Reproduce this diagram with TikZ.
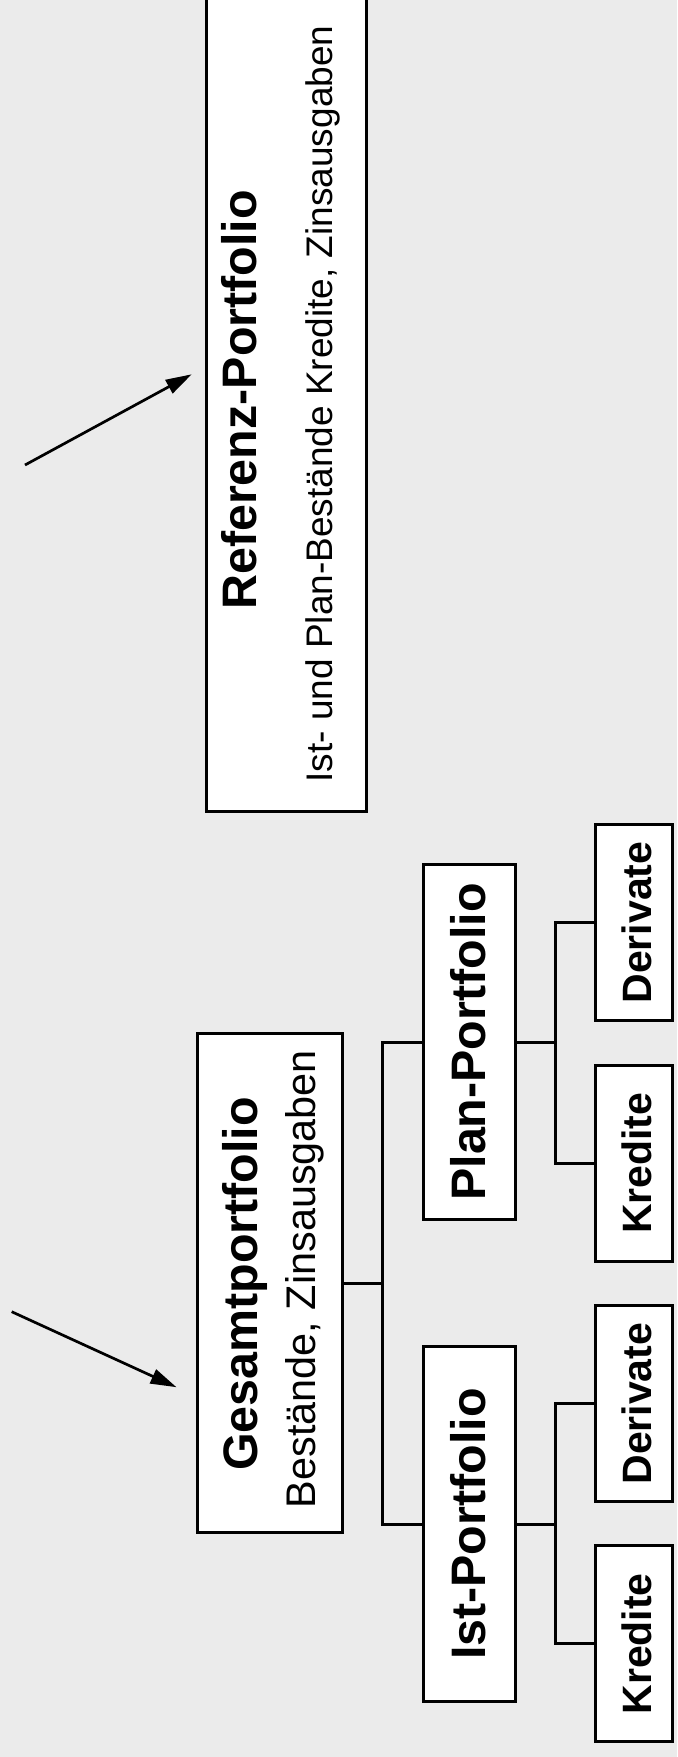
\documentclass[tikz,border=0pt]{standalone}
\usepackage{fontspec}
\setmainfont{Liberation Sans}
\usetikzlibrary{arrows.meta}
\definecolor{bgc}{RGB}{235,235,235}
\begin{document}
\begin{tikzpicture}[x=0.5pt,y=-0.5pt,
  box/.style={draw=black, fill=white, line width=1.5pt, rotate=90, inner sep=0pt, outer sep=0pt},
  ttl/.style={font=\fontsize{24.2pt}{29pt}\selectfont\bfseries},
  leaf/.style={box, font=\fontsize{20.5pt}{24pt}\selectfont\bfseries, minimum width=98pt, text height=28.1pt, text depth=10.15pt},
  mid/.style={box, ttl, minimum width=177.25pt, text height=30.85pt, text depth=15pt},
  wire/.style={line width=1.5pt},
  arr/.style={line width=1.35pt, -{Triangle[length=13pt,width=7.5pt]}},
  txt/.style={rotate=90, anchor=base, inner sep=0pt}
]
\fill[bgc] (0,0) rectangle (677,1757);
\useasboundingbox (0,0) rectangle (677,1757);

% junction points
\coordinate (j1) at (382.3,1283);
\coordinate (j2) at (555.7,1042);
\coordinate (j3) at (555.7,1524.2);

% Referenz box
\node[box, minimum width=410.85pt, minimum height=80pt] (ref) at (286.5,400.85) {};
\node[txt, ttl] (reftitle) at (256.7,400) {Referenz-Portfolio};
\node[txt, font=\fontsize{18.5pt}{22pt}\selectfont] (refsub) at (332.5,404) {Ist- und Plan-Bestände Kredite, Zinsausgaben};

% Gesamt box
\node[box, minimum width=249.7pt, minimum height=72.5pt] (ges) at (270.2,1283) {};
\node[txt, ttl] (gestitle) at (257,1284) {Gesamtportfolio};
\node[txt, font=\fontsize{20.7pt}{24pt}\selectfont] (gessub) at (315,1279) {Bestände, Zinsausgaben};

% second level
\node[mid] (plan) at (469.15,1042) {Plan-Portfolio};
\node[mid] (ist) at (469.15,1524.2) {Ist-Portfolio};

% leaves
\node[leaf] (pder) at (633.75,922.5) {Derivate};
\node[leaf] (pkre) at (633.75,1163.35) {Kredite};
\node[leaf] (ider) at (633.75,1403.65) {Derivate};
\node[leaf] (ikre) at (633.75,1643.85) {Kredite};

\draw[wire] (ges.south) -- (j1);
\draw[wire] (plan.north) -| (j1) |- (ist.north);
\draw[wire] (plan.south) -- (j2);
\draw[wire] (pder.north) -| (j2) |- (pkre.north);
\draw[wire] (ist.south) -- (j3);
\draw[wire] (ider.north) -| (j3) |- (ikre.north);

% arrows
\coordinate (a1s) at (25,465);
\coordinate (a1e) at (191.7,374.3);
\coordinate (a2s) at (11.7,1311.7);
\coordinate (a2e) at (176.5,1387.2);
\draw[arr] (a1s) -- (a1e);
\draw[arr] (a2s) -- (a2e);
\end{tikzpicture}
\end{document}
